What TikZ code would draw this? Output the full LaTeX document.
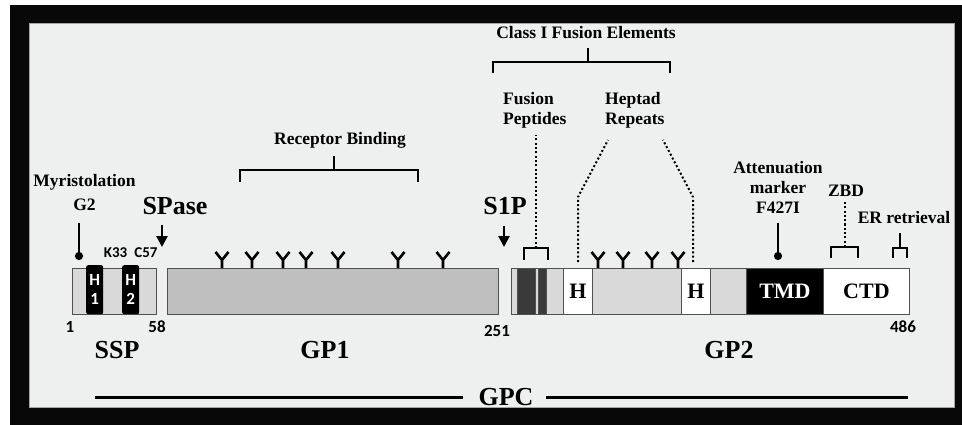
\documentclass[tikz,border=0pt]{standalone}
\usepackage{fontspec}
\setmainfont{Liberation Serif}
\newfontfamily\calfont{Carlito}
\usepackage{tikz}
\usetikzlibrary{arrows.meta, positioning}

\definecolor{panel}{HTML}{EEEFEF}
\definecolor{framec}{HTML}{080808}
\definecolor{edge}{HTML}{505050}
\definecolor{lightdom}{HTML}{D9D9D9}
\definecolor{gpone}{HTML}{BFBFBF}
\definecolor{fusdark}{HTML}{3A3A3A}

\begin{document}
\begin{tikzpicture}[
    x=1pt, y=-1pt,
    lab/.style={font=\bfseries\fontsize{17.5}{20}\selectfont, align=left, inner sep=0pt},
    biglab/.style={font=\bfseries\fontsize{26}{28}\selectfont, inner sep=0pt},
    num/.style={font=\calfont\bfseries\fontsize{17}{19}\selectfont, inner sep=0pt},
    small/.style={font=\calfont\bfseries\fontsize{15}{17}\selectfont, inner sep=0pt},
    seg/.style={draw=edge, line width=0.9pt, minimum height=46pt, inner sep=0pt,
                anchor=north west, font=\bfseries\fontsize{22}{24}\selectfont},
    helix/.style={fill=black, rounded corners=2pt, minimum width=17pt, minimum height=49pt,
                  inner sep=0pt, anchor=north west, text=white, align=center,
                  font=\calfont\bfseries\fontsize{17}{19}\selectfont},
    brk/.style={line width=2.4pt},
    dots/.style={line width=2pt, dash pattern=on 2pt off 2.3pt},
    arrow/.style={-{Triangle[length=11pt, width=11pt]}, line width=2.6pt},
    pin/.style={-{Circle[length=8pt]}, line width=2.6pt},
    glyco/.style={line width=2.6pt},
]
\useasboundingbox (0,0) rectangle (962,425);
% frame
\fill[white] (0,0) rectangle (962,425);
\fill[framec] (10,5) rectangle (962,425);
\filldraw[fill=panel, draw=gray!70, line width=0.8pt] (29,23) rectangle (954,407);

% SSP
\node[seg, fill=lightdom, minimum width=84pt] (ssp) at (72,268) {};
\node[helix] (hone) at (86,265) {H\\1};
\node[helix] (htwo) at (122,265) {H\\2};
% GP1
\node[seg, fill=gpone, minimum width=331pt] (gp1) at (167,268) {};
% GP2
\node[seg, fill=lightdom, minimum width=398pt] (gp2) at (511,268) {};
\node[seg, fill=fusdark, minimum width=18pt] (fpone) at (517,268) {};
\node[seg, fill=fusdark, minimum width=8pt] (fptwo) at (538,268) {};
\node[seg, fill=white, minimum width=29pt] (hrone) at (563,268) {H};
\node[seg, fill=white, minimum width=29pt] (hrtwo) at (681,268) {H};
\node[seg, fill=black, text=white, minimum width=77pt] (tmd) at (746,268) {TMD};
\node[seg, fill=white, minimum width=86pt] (ctd) at (823,268) {CTD};

% glycosylation sites
\foreach \gx in {222,252,283,306,338,398,443,598,623,652,678}
  \draw[glyco] (\gx,268) -- (\gx,260) -- +(-6.5,-8) (\gx,260) -- +(6.5,-8);

% residue numbers
\node[num] (nfirst) at (70,327) {1};
\node[num] (nssp) at (157,327) {58};
\node[num] (ngp1) at (497,331) {251};
\node[num] (nlast) at (903,327) {486};
\node[small] (kres) at (115.5,253) {K33};
\node[small] (cres) at (146,253) {C57};

% chain names
\node[biglab] (sspl) at (117,350) {SSP};
\node[biglab] (gp1l) at (325,350) {GP1};
\node[biglab] (gp2l) at (729,350) {GP2};
\node[biglab] (gpc) at (506,397) {GPC};
\draw[line width=3pt] (95,397) -- (463,397);
\draw[line width=3pt] (546,397) -- (908,397);

% cleavage sites
\node[biglab] (spase) at (175,206) {SPase};
\node[biglab] (sonep) at (505,206) {S1P};
\draw[arrow] (162,225) -- (162,247);
\draw[arrow] (504,226) -- (504,247);

% myristoylation
\node[lab] (myr) at (84.5,182) {Myristolation};
\node[lab, below=9pt of myr] (gtwo) {G2};
\draw[pin] (79,223) -- (79,260);

% receptor binding
\node[lab] (recb) at (340,140) {Receptor Binding};
\draw[brk] (240,182) -- (240,170) -- (418,170) -- (418,182);
\draw[brk] (334,170) -- (334,156);

% class I fusion elements
\node[lab] (classi) at (586,33) {Class I Fusion Elements};
\draw[brk] (493,73) -- (493,62) -- (670,62) -- (670,73);
\draw[brk] (588,62) -- (588,48);
\node[lab, anchor=west] (fusp) at (503,110) {Fusion\\Peptides};
\node[lab, anchor=west] (hept) at (605,110) {Heptad\\Repeats};
\draw[brk] (524,260) -- (524,248) -- (548,248) -- (548,260);
\draw[dots] (536,248) -- (536,135);
\draw[dots] (578,262) -- (578,197) -- (608,140);
\draw[dots] (693,262) -- (693,197) -- (663,140);

% attenuation marker
\node[lab, align=center] (atten) at (778,187) {Attenuation\\marker\\F427I};
\draw[pin] (778,223) -- (778,260);

% ZBD and ER retrieval
\node[lab] (zbd) at (846,191) {ZBD};
\draw[brk] (831,258) -- (831,247) -- (858,247) -- (858,258);
\draw[dots] (845,247) -- (845,202);
\node[lab] (erret) at (904,218) {ER retrieval};
\draw[brk] (893,258) -- (893,248) -- (907,248) -- (907,258);
\draw[brk] (900,248) -- (900,233);
\end{tikzpicture}
\end{document}
